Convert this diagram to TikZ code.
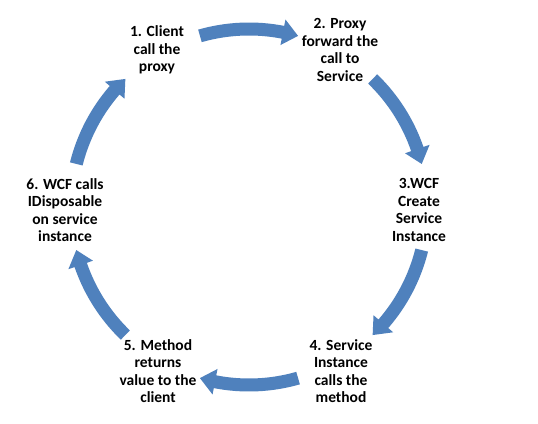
\documentclass[tikz,border=0pt]{standalone}
\usepackage{fontspec}
\setmainfont{Carlito}
\definecolor{cyc}{HTML}{4F81BD}
\tikzset{
  steptext/.style={align=center, font=\bfseries\fontsize{15.5}{17.5}\selectfont, inner sep=0pt},
  cycarrow/.style={fill=cyc, draw=none}
}
\begin{document}
\begin{tikzpicture}[x=1pt,y=1pt]
\useasboundingbox (0,0) rectangle (538,423);
\fill[white] (0,0) rectangle (538,423);
\node[steptext] (n1) at (157,373) {1. Client\\call the\\proxy};
\node[steptext] (n2) at (340,373) {2. Proxy\\forward the\\call to\\Service};
\node[steptext] (n3) at (419,213) {3.WCF\\Create\\Service\\Instance};
\node[steptext] (n4) at (341,52) {4. Service\\Instance\\calls the\\method};
\node[steptext] (n5) at (158,52) {5. Method\\returns\\value to the\\client};
\node[steptext] (n6) at (65,213) {6. WCF calls\\IDisposable\\on service\\instance};
\begin{scope}[shift={(249,216)}]
\foreach \c in {90,30,-30,-90,-150,150}{
  \pgfmathsetmacro{\ta}{\c+16}
  \pgfmathsetmacro{\te}{\c-16}
  \pgfmathsetmacro{\th}{\c-11}
  \fill[cycarrow] (\ta:184.5pt) arc[start angle=\ta, end angle=\th, radius=184.5pt]
    -- (\th:191pt) -- (\te:178pt) -- (\th:165pt) -- (\th:171.5pt)
    arc[start angle=\th, end angle=\ta, radius=171.5pt] -- cycle;
}
\end{scope}
\end{tikzpicture}
\end{document}
